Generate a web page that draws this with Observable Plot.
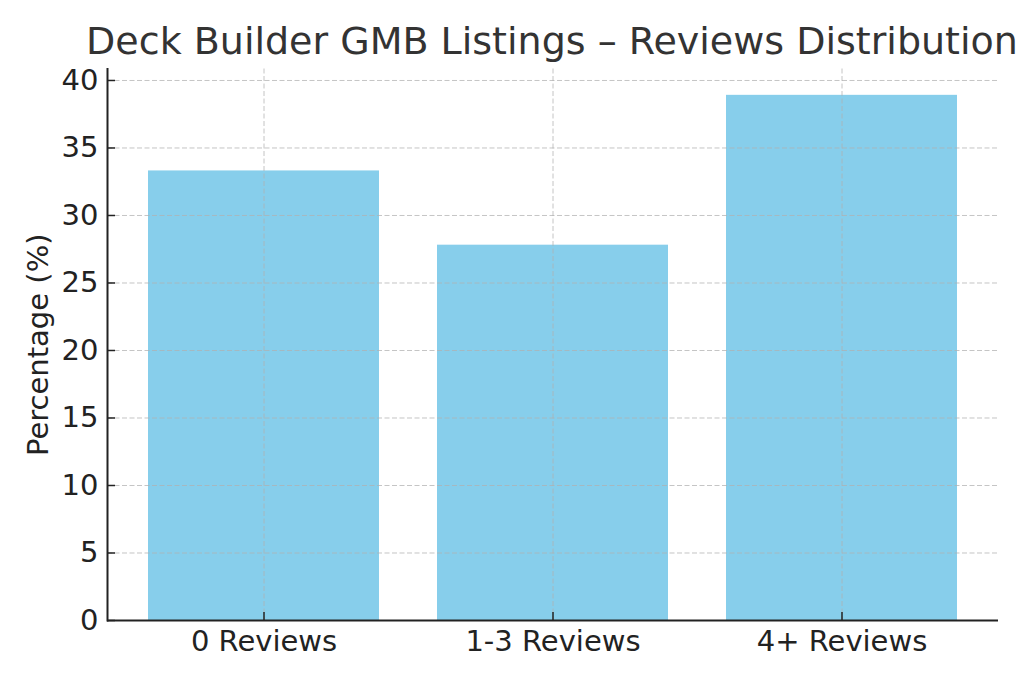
<!DOCTYPE html>
<html><head><meta charset="utf-8">
<script src="https://cdn.jsdelivr.net/npm/d3@7"></script>
<script src="https://cdn.jsdelivr.net/npm/@observablehq/plot@0.6"></script>
<style>
body{margin:0;background:#fff;font-family:"DejaVu Sans",sans-serif;overflow:hidden;}
#title{position:relative;height:60px;}
#title div{position:absolute;left:52px;width:1000px;top:22px;text-align:center;font-size:38px;line-height:1;color:#333;white-space:nowrap;}
</style></head>
<body>
<div id="title"><div>Deck Builder GMB Listings – Reviews Distribution</div></div>
<div id="chart"></div>
<script>
const categories = ["0 Reviews", "1-3 Reviews", "4+ Reviews"];
const percentages = [33.3, 27.8, 38.9];
const yTicks = [0, 5, 10, 15, 20, 25, 30, 35, 40];
const yLabel = "Percentage (%)";

const data = categories.map((c, i) => ({category: c, value: percentages[i]}));

const W = 1024, H = 623, mL = 107, mR = 26, mT = 8.5, mB = 63;
const plotW = W - mL - mR, plotH = H - mT - mB;
const gridStyle = {stroke: "#b0b0b0", strokeOpacity: 0.75, strokeDasharray: "5,2.5", strokeWidth: 1};

const chart = Plot.plot({
  width: W, height: H,
  marginLeft: mL, marginRight: mR, marginTop: mT, marginBottom: mB,
  style: {fontFamily: "DejaVu Sans", fontSize: "29px", color: "#222", background: "#fff"},
  x: {domain: categories, paddingInner: 0.2, paddingOuter: 0.14, label: null},
  y: {domain: [0, 40.85], label: null},
  marks: [
    Plot.barY(data, {x: "category", y: "value", fill: "#87CEEB"}),
    Plot.gridY(yTicks.filter(d => d > 0), gridStyle),
    Plot.gridX(categories, gridStyle),
    Plot.axisY(yTicks, {tickSize: 0, tickPadding: 9, fill: "#222", label: null}),
    Plot.axisX({tickSize: 0, tickPadding: 10, fill: "#222", label: null}),
    Plot.ruleY(yTicks, {y: d => d, insetRight: plotW - 8, stroke: "#222", strokeWidth: 1.5}),
    Plot.ruleX(categories, {x: d => d, insetTop: plotH - 8, stroke: "#222", strokeWidth: 1.5}),
    Plot.ruleY([0], {stroke: "#222", strokeWidth: 2}),
    Plot.frame({anchor: "left", stroke: "#222", strokeWidth: 2}),
    Plot.text([yLabel], {frameAnchor: "left", rotate: -90, dx: -69, fontSize: 29, fill: "#222", textAnchor: "middle", lineAnchor: "middle"})
  ]
});
document.getElementById("chart").appendChild(chart);
</script>
</body></html>
